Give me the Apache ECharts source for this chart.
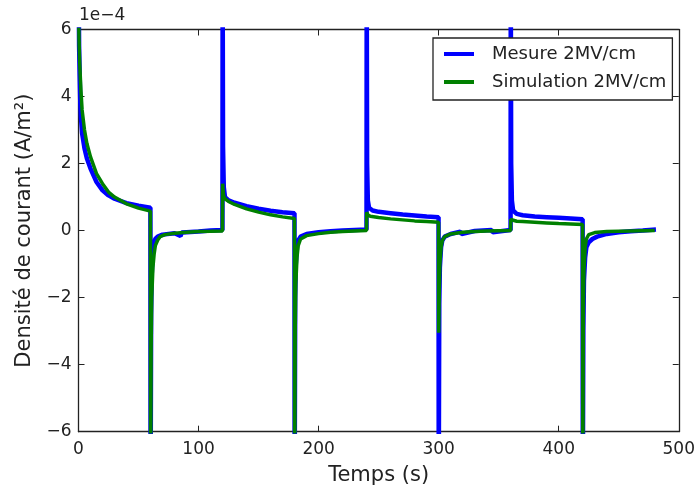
<!DOCTYPE html>
<html>
<head>
<meta charset="utf-8">
<script src="https://cdn.jsdelivr.net/npm/echarts@6/dist/echarts.min.js"></script>
<style>
html,body{margin:0;padding:0;background:#fff;}
#chart{width:698px;height:491px;}
</style>
</head>
<body>
<div id="chart"></div>
<script>
// Time (s) and current density values (units of 1e-4 A/m²)
const mesureTemps = [
  0, 0.5, 1, 1.5, 2, 3, 5, 7, 10, 15, 20, 25, 30, 40, 50, 59.9,
  60.05, 60.5, 61, 62, 63, 64, 66, 70, 80, 85, 86, 90, 100, 110, 119.9,
  120.05, 120.4, 121, 122, 125, 130, 140, 150, 160, 170, 179.9,
  180.05, 180.5, 181, 182, 183, 185, 190, 200, 210, 220, 239.9,
  240.05, 240.4, 241, 242, 245, 250, 260, 270, 280, 290, 299.9,
  300.05, 300.5, 301, 302, 303, 305, 310, 318, 319, 330, 344, 345, 359.9,
  360.05, 360.4, 361, 362, 365, 370, 380, 390, 400, 410, 419.9,
  420.05, 420.5, 421, 422, 423, 425, 428, 432, 440, 450, 460, 470, 481
];
const mesureValeurs = [
  8, 5.5, 4.6, 3.8, 3.4, 2.9, 2.45, 2.15, 1.85, 1.45, 1.2, 1.05, 0.95, 0.82, 0.74, 0.68,
  -8, -2.5, -1.3, -0.6, -0.35, -0.25, -0.18, -0.12, -0.08, -0.16, -0.06, -0.05, -0.03, 0.0, 0.02,
  8, 2.5, 1.3, 1.0, 0.9, 0.83, 0.73, 0.65, 0.59, 0.55, 0.52,
  -8, -2.0, -1.0, -0.5, -0.3, -0.18, -0.1, -0.05, -0.02, 0.0, 0.03,
  8, 2.0, 0.9, 0.68, 0.6, 0.56, 0.52, 0.48, 0.45, 0.42, 0.4,
  -8, -2.2, -1.1, -0.5, -0.3, -0.18, -0.1, -0.03, -0.1, -0.01, 0.02, -0.05, 0.02,
  8, 2.0, 0.9, 0.6, 0.5, 0.46, 0.42, 0.4, 0.38, 0.36, 0.34,
  -8, -3, -1.5, -0.8, -0.5, -0.35, -0.25, -0.18, -0.1, -0.05, -0.02, 0.0, 0.03
];
const simTemps = [
  0, 0.5, 1, 2, 3, 5, 7, 10, 15, 20, 25, 30, 40, 50, 59.9,
  60.05, 60.5, 61, 62, 63, 64, 66, 68, 72, 80, 90, 100, 110, 119.9,
  120.05, 120.5, 121, 122, 125, 130, 140, 150, 160, 170, 179.9,
  180.05, 180.5, 181, 182, 183, 185, 190, 200, 210, 220, 239.9,
  240.05, 241, 243, 250, 260, 270, 280, 290, 299.9,
  300.05, 300.5, 301, 302, 303, 305, 310, 320, 330, 340, 359.9,
  360.05, 361, 365, 370, 380, 390, 400, 410, 419.9,
  420.05, 420.5, 421, 422, 423, 425, 430, 440, 460, 480
];
const simValeurs = [
  6.6, 5.6, 5.0, 4.2, 3.6, 3.0, 2.6, 2.2, 1.7, 1.4, 1.15, 1.0, 0.8, 0.67, 0.58,
  -8, -3.5, -2.0, -1.1, -0.7, -0.45, -0.28, -0.18, -0.12, -0.08, -0.05, -0.03, -0.02, -0.01,
  1.4, 1.15, 1.02, 0.95, 0.87, 0.78, 0.65, 0.55, 0.47, 0.41, 0.36,
  -8, -3, -1.6, -0.8, -0.45, -0.25, -0.15, -0.09, -0.05, -0.03, 0.0,
  0.55, 0.47, 0.43, 0.39, 0.35, 0.32, 0.29, 0.27, 0.25,
  -3.05, -1.8, -1.0, -0.5, -0.3, -0.18, -0.1, -0.05, -0.03, -0.01, 0.0,
  0.33, 0.3, 0.28, 0.27, 0.25, 0.23, 0.21, 0.2, 0.18,
  -8, -2.5, -1.2, -0.5, -0.25, -0.12, -0.06, -0.03, -0.01, 0.0
];
const xTicks = [0, 100, 200, 300, 400, 500];
const yTicks = [-6, -4, -2, 0, 2, 4, 6];
const seriesNames = ['Mesure 2MV/cm', 'Simulation 2MV/cm'];

const zip = (t, v) => t.map((x, i) => [x, v[i]]);
const FONT = 'DejaVu Sans';
const AX = '#222';
const minus = v => String(v).replace('-', '\u2212');

const chart = echarts.init(document.getElementById('chart'), null, {renderer: 'canvas'});
const baseX = {
  type: 'value', min: xTicks[0], max: xTicks[xTicks.length - 1], interval: 100,
  splitLine: {show: false},
  axisLine: {show: true, onZero: false, lineStyle: {color: AX, width: 1.3}},
  axisTick: {show: true, inside: true, length: 6, lineStyle: {color: AX, width: 1}}
};
const baseY = {
  type: 'value', min: yTicks[0], max: yTicks[yTicks.length - 1], interval: 2,
  splitLine: {show: false},
  axisLine: {show: true, onZero: false, lineStyle: {color: AX, width: 1.3}},
  axisTick: {show: true, inside: true, length: 6, lineStyle: {color: AX, width: 1}}
};
chart.setOption({
  animation: false,
  backgroundColor: '#fff',
  textStyle: {fontFamily: FONT},
  grid: {left: 78.5, right: 16, top: 29.5, bottom: 59.3, containLabel: false},
  xAxis: [
    Object.assign({}, baseX, {
      position: 'bottom',
      name: 'Temps (s)', nameLocation: 'middle', nameGap: 33,
      nameTextStyle: {fontFamily: FONT, fontSize: 21, color: '#222'},
      axisLabel: {fontFamily: FONT, fontSize: 17, color: '#222', margin: 9, formatter: minus}
    }),
    Object.assign({}, baseX, {position: 'top', axisLabel: {show: false}})
  ],
  yAxis: [
    Object.assign({}, baseY, {
      position: 'left',
      name: 'Densité de courant (A/m²)', nameLocation: 'middle', nameGap: 39,
      nameTextStyle: {fontFamily: FONT, fontSize: 21, color: '#222'},
      axisLabel: {fontFamily: FONT, fontSize: 17, color: '#222', margin: 7, formatter: minus}
    }),
    Object.assign({}, baseY, {position: 'right', axisLabel: {show: false}})
  ],
  legend: {
    orient: 'vertical', left: 433, top: 38,
    backgroundColor: '#fff', borderColor: '#222', borderWidth: 1.3, borderRadius: 0,
    padding: [6, 6, 8, 11], itemGap: 8,
    itemWidth: 30, itemHeight: 4, icon: 'rect',
    textStyle: {fontFamily: FONT, fontSize: 18, color: '#222', lineHeight: 20, padding: [0, 0, 0, 13]},
    data: seriesNames
  },
  graphic: [{
    type: 'text', left: 79, top: 7,
    style: {text: '1e\u22124', fontFamily: FONT, fontSize: 17, fill: '#222'}
  }],
  series: [
    {
      name: seriesNames[0], type: 'line', data: zip(mesureTemps, mesureValeurs),
      showSymbol: false, symbol: 'none', color: '#0000ff',
      lineStyle: {color: '#0000ff', width: 4.5}, clip: true, z: 2
    },
    {
      name: seriesNames[1], type: 'line', data: zip(simTemps, simValeurs),
      showSymbol: false, symbol: 'none', color: '#008000',
      lineStyle: {color: '#008000', width: 3.5}, clip: true, z: 3
    }
  ]
});
</script>
</body>
</html>
